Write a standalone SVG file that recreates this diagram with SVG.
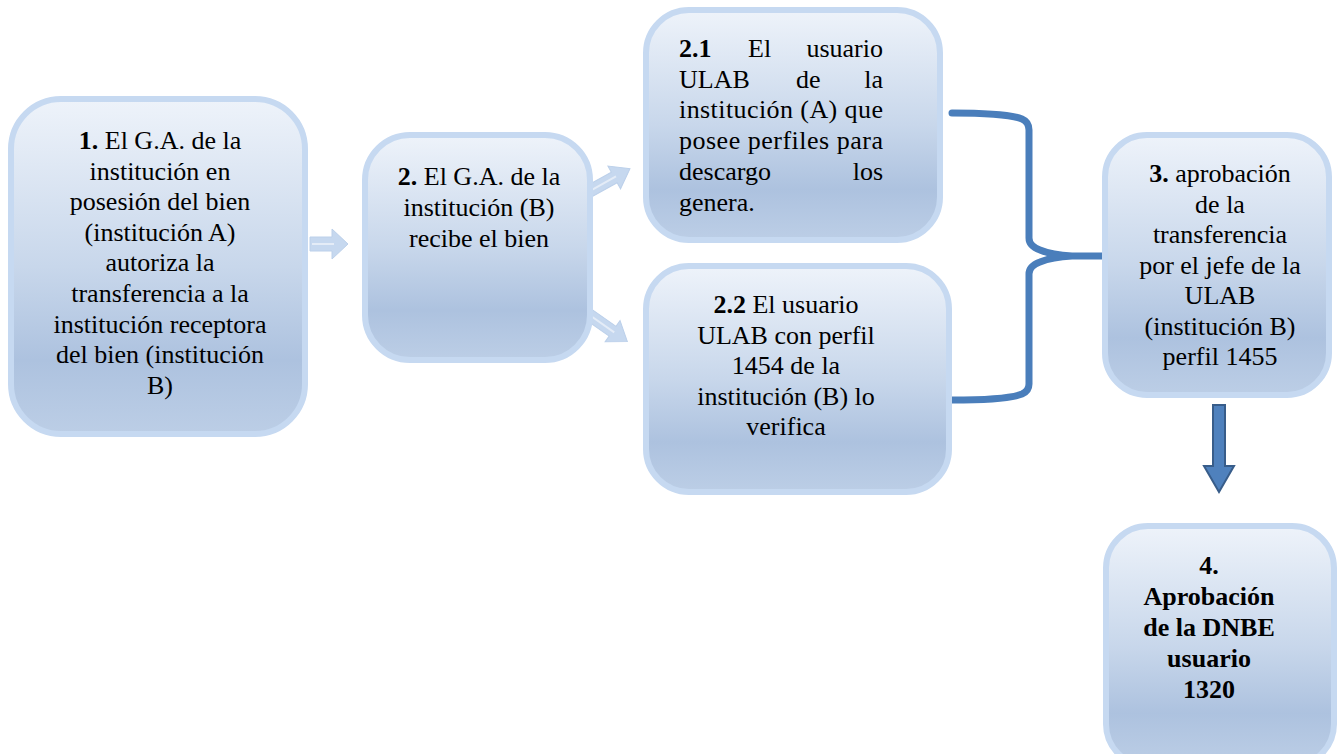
<svg xmlns="http://www.w3.org/2000/svg" width="1340" height="754" viewBox="0 0 1340 754">
<style>
.box{fill:url(#g);stroke:#c6d9f1;stroke-width:6}
.t{font-family:'Liberation Serif','DejaVu Serif',serif;font-size:26px;fill:#000}
.c{text-anchor:middle}
.e{text-anchor:end}
.b{font-weight:bold}
.la{fill:#c6d8ef;stroke:#bcd0ea;stroke-width:1}
.hl{stroke:#e4ecf7;stroke-width:2;fill:none}
.brace{fill:none;stroke:#4a7ebb;stroke-width:7;stroke-linecap:round;stroke-linejoin:round}
.down{fill:#4f81bd;stroke:#385d8a;stroke-width:2}
</style>
<defs>
<linearGradient id="g" x1="0" y1="0" x2="0" y2="1">
<stop offset="0" stop-color="#eef3fa"/>
<stop offset="0.5" stop-color="#c8d7eb"/>
<stop offset="0.78" stop-color="#adc2df"/>
<stop offset="1" stop-color="#bccee6"/>
</linearGradient>
</defs>
<rect width="1340" height="754" fill="#fff"/>
<g id="connectors">
<g id="a1">
<polygon class="la" points="310,237 332,237 332,229 348,244 332,259 332,251 310,251"/>
<line class="hl" x1="312" y1="244" x2="334" y2="244"/>
</g>
<g id="a2" transform="translate(588,192) rotate(-29)">
<polygon class="la" points="0,-6 30,-6 30,-13 48,0 30,13 30,6 0,6"/>
<line class="hl" x1="4" y1="0" x2="32" y2="0"/>
</g>
<g id="a3" transform="translate(588,314) rotate(35)">
<polygon class="la" points="0,-6 30,-6 30,-13 48,0 30,13 30,6 0,6"/>
<line class="hl" x1="4" y1="0" x2="32" y2="0"/>
</g>
<path id="brace" class="brace" d="M952,113 C985,113 1012,115 1022,119 Q1029,122 1029,130 L1029,238 Q1029,246 1040,250 Q1052,255 1072,256 L1110,256 M1072,256 Q1052,257 1040,262 Q1029,266 1029,274 L1029,384 Q1029,391 1022,394 C1012,398 985,400 952,400"/>
<polygon id="a4" class="down" points="1213,405 1225,405 1225,466 1234,466 1219,492 1204,466 1213,466"/>
</g>
<g id="n1">
<rect class="box" x="11" y="99" width="294" height="335" rx="50"/>
<text class="t c" x="160" y="149"><tspan class="b">1.</tspan> El G.A. de la</text>
<text class="t c" x="160" y="179.6">institución en</text>
<text class="t c" x="160" y="210.2">posesión del bien</text>
<text class="t c" x="160" y="240.8">(institución A)</text>
<text class="t c" x="160" y="271.4">autoriza la</text>
<text class="t c" x="160" y="302">transferencia a la</text>
<text class="t c" x="160" y="332.6">institución receptora</text>
<text class="t c" x="160" y="363.2">del bien (institución</text>
<text class="t c" x="160" y="393.8">B)</text>
</g>
<g id="n2">
<rect class="box" x="365" y="135" width="225" height="225" rx="45"/>
<text class="t c" x="479" y="185"><tspan class="b">2.</tspan> El G.A. de la</text>
<text class="t c" x="479" y="216">institución (B)</text>
<text class="t c" x="479" y="247">recibe el bien</text>
</g>
<g id="n21">
<rect class="box" x="646" y="10" width="294" height="230" rx="43"/>
<text class="t b" x="679" y="57">2.1</text>
<text class="t" x="748" y="57">El</text>
<text class="t e" x="883" y="57">usuario</text>
<text class="t" x="679" y="88">ULAB</text>
<text class="t" x="796" y="88">de</text>
<text class="t e" x="883" y="88">la</text>
<text class="t" x="679" y="118" textLength="204" lengthAdjust="spacing">institución (A) que</text>
<text class="t" x="679" y="149" textLength="204" lengthAdjust="spacing">posee perfiles para</text>
<text class="t" x="679" y="180">descargo</text>
<text class="t e" x="883" y="180">los</text>
<text class="t" x="679" y="211">genera.</text>
</g>
<g id="n22">
<rect class="box" x="646" y="266" width="303" height="226" rx="43"/>
<text class="t c" x="786" y="313"><tspan class="b">2.2</tspan> El usuario</text>
<text class="t c" x="786" y="343.5">ULAB con perfil</text>
<text class="t c" x="786" y="374">1454 de la</text>
<text class="t c" x="786" y="404.5">institución (B) lo</text>
<text class="t c" x="786" y="435">verifica</text>
</g>
<g id="n3">
<rect class="box" x="1105" y="135" width="224" height="260" rx="42"/>
<text class="t c" x="1220" y="182"><tspan class="b">3.</tspan> aprobación</text>
<text class="t c" x="1220" y="212.5">de la</text>
<text class="t c" x="1220" y="243">transferencia</text>
<text class="t c" x="1220" y="273.5">por el jefe de la</text>
<text class="t c" x="1220" y="304">ULAB</text>
<text class="t c" x="1220" y="334.5">(institución B)</text>
<text class="t c" x="1220" y="365">perfil 1455</text>
</g>
<g id="n4">
<rect class="box" x="1106" y="526" width="228" height="240" rx="42"/>
<text class="t c b" x="1209" y="574">4.</text>
<text class="t c b" x="1209" y="605">Aprobación</text>
<text class="t c b" x="1209" y="636">de la DNBE</text>
<text class="t c b" x="1209" y="667">usuario</text>
<text class="t c b" x="1209" y="698">1320</text>
</g>
</svg>
